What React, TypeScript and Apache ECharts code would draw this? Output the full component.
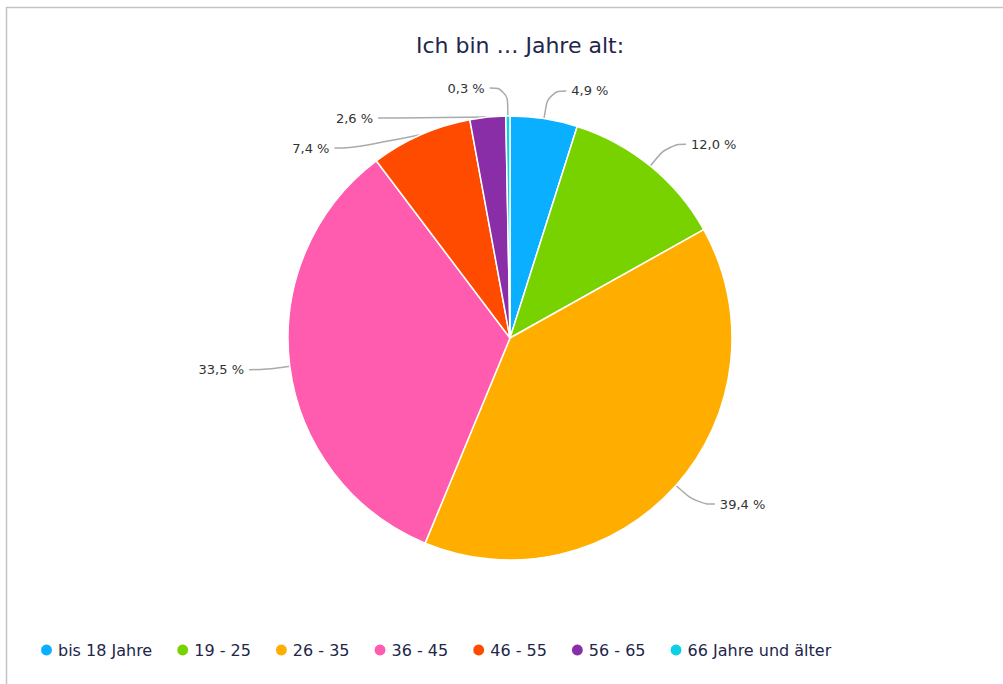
import React, { useEffect, useRef } from "react";
import * as echarts from "echarts";

const categories = ["bis 18 Jahre", "19 - 25", "26 - 35", "36 - 45", "46 - 55", "56 - 65", "66 Jahre und älter"];
const values = [4.9, 12.0, 39.4, 33.5, 7.4, 2.6, 0.3];
const colors = ["#0ab0ff", "#78d200", "#ffae00", "#ff5cb0", "#ff4b00", "#8a2ea8", "#0cd0e6"];
const titleText = "Ich bin … Jahre alt:";

export default function App() {
  const ref = useRef<HTMLDivElement>(null);
  useEffect(() => {
    if (!ref.current) return;
    const chart = echarts.init(ref.current, null, { renderer: "svg" });
    const font = "'DejaVu Sans', sans-serif";
    chart.setOption({
      animation: false,
      color: colors,
      title: {
        text: titleText,
        left: 515,
        textAlign: "center",
        top: 29,
        textStyle: { fontFamily: font, fontSize: 22, fontWeight: "normal", color: "#22264a" },
      },
      legend: {
        bottom: 21,
        left: 34,
        icon: "circle",
        itemWidth: 13,
        itemHeight: 13,
        itemGap: 23,
        textStyle: { fontFamily: font, fontSize: 16, color: "#22264a" },
        data: categories,
      },
      graphic: [
        {
          type: "rect",
          shape: { x: 6.5, y: 7.5, width: 1010, height: 700 },
          style: { fill: "none", stroke: "#c4c4c4", lineWidth: 1.5 },
          silent: true,
        },
      ],
      series: [
        {
          type: "pie",
          center: [510, 338],
          radius: 222,
          startAngle: 90,
          clockwise: true,
          itemStyle: { borderColor: "#ffffff", borderWidth: 1.5 },
          label: {
            fontFamily: font,
            fontSize: 13,
            color: "#333333",
            minMargin: 17,
            formatter: (p: any) => p.value.toFixed(1).replace(".", ",") + " %",
          },
          labelLine: {
            length: 28,
            length2: 18,
            smooth: 0.5,
            lineStyle: { color: "#aaaaaa", width: 1.5 },
          },
          data: categories.map((c, i) => ({ name: c, value: values[i] })),
        },
      ],
    });
    return () => chart.dispose();
  }, []);
  return (
    <div
      ref={ref}
      style={{ position: "fixed", left: 0, top: 0, width: 1003, height: 684, background: "#fff" }}
    />
  );
}
